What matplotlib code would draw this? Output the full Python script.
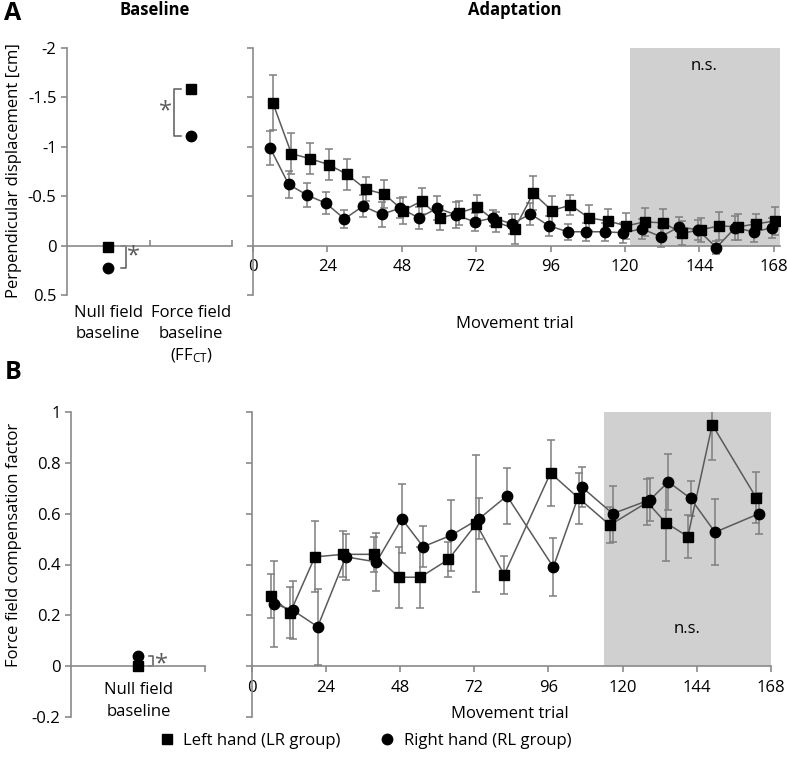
import numpy as np
import matplotlib
matplotlib.use('Agg')
import matplotlib.pyplot as plt
from matplotlib.lines import Line2D

plt.rcParams['font.family'] = ['Open Sans', 'DejaVu Sans']
plt.rcParams['axes.unicode_minus'] = False
plt.rcParams['mathtext.default'] = 'regular'

# ---- panel A data: perpendicular displacement [cm] ----
base_a_left = [0.01, -1.58]     # null field, force field (LR group)
base_a_right = [0.23, -1.11]    # (RL group)

trials_a = [6, 12, 18, 24, 30, 36, 42, 48, 54, 60, 66, 72, 78, 84,
            90, 96, 102, 108, 114, 120, 126, 132, 138, 144, 150, 156, 162, 168]
disp_left = [-1.445, -0.93, -0.88, -0.82, -0.72, -0.57, -0.52, -0.355, -0.45, -0.28,
             -0.33, -0.39, -0.24, -0.17, -0.53, -0.355, -0.41, -0.28, -0.25, -0.20,
             -0.24, -0.23, -0.125, -0.16, -0.20, -0.19, -0.22, -0.25]
err_left_a = [0.28, 0.21, 0.16, 0.16, 0.16, 0.12, 0.14, 0.14, 0.13, 0.12,
              0.12, 0.12, 0.10, 0.15, 0.17, 0.15, 0.10, 0.13, 0.12, 0.13,
              0.14, 0.14, 0.12, 0.12, 0.14, 0.13, 0.10, 0.14]
disp_right = [-0.99, -0.62, -0.51, -0.43, -0.27, -0.40, -0.315, -0.38, -0.28, -0.38,
              -0.31, -0.24, -0.28, -0.22, -0.32, -0.20, -0.14, -0.14, -0.14, -0.13,
              -0.17, -0.09, -0.19, -0.16, 0.02, -0.18, -0.14, -0.18]
err_right_a = [0.17, 0.14, 0.12, 0.11, 0.09, 0.11, 0.13, 0.10, 0.11, 0.12,
               0.13, 0.09, 0.08, 0.10, 0.11, 0.10, 0.08, 0.09, 0.09, 0.10,
               0.10, 0.10, 0.10, 0.10, 0.07, 0.12, 0.10, 0.10]

# ---- panel B data: force field compensation factor ----
base_b_left = [0.0]
base_b_right = [0.04]

trials_b = [6.4, 12.5, 20.5, 29.6, 39.5, 47.7, 54.6, 63.7, 72.7, 81.7,
            96.7, 105.9, 115.9, 128.0, 133.9, 141.1, 149.0, 163.2]
comp_left = [0.276, 0.21, 0.43, 0.44, 0.44, 0.35, 0.35, 0.42, 0.56, 0.36,
             0.76, 0.66, 0.555, 0.645, 0.565, 0.51, 0.95, 0.663]
err_left_b = [0.087, 0.10, 0.14, 0.09, 0.07, 0.12, 0.12, 0.07, 0.27, 0.075,
              0.13, 0.10, 0.07, 0.09, 0.15, 0.085, 0.14, 0.10]
comp_right = [0.245, 0.22, 0.155, 0.43, 0.41, 0.58, 0.47, 0.515, 0.58, 0.67,
              0.39, 0.705, 0.60, 0.655, 0.725, 0.66, 0.527, 0.60]
err_right_b = [0.17, 0.115, 0.15, 0.09, 0.115, 0.135, 0.08, 0.14, 0.08, 0.11,
               0.115, 0.08, 0.11, 0.085, 0.11, 0.07, 0.13, 0.08]

W, H = 787, 778
SPINE = '#8a8a8a'
ERR = '#7f7f7f'
LINE = '#5a5a5a'
SHADE = '#d0d0d0'
FS = 12

fig = plt.figure(figsize=(W / 100, H / 100), dpi=100)


def px_axes(x0, y0, x1, y1):
    return fig.add_axes([x0 / W, 1 - y1 / H, (x1 - x0) / W, (y1 - y0) / H])


def ftext(x, y, s, **kw):
    kw.setdefault('fontsize', FS)
    kw.setdefault('ha', 'center')
    kw.setdefault('va', 'center')
    fig.text(x / W, 1 - y / H, s, **kw)


def style(ax):
    for s in ['top', 'right']:
        ax.spines[s].set_visible(False)
    for s in ['left', 'bottom']:
        ax.spines[s].set_color(SPINE)
        ax.spines[s].set_linewidth(1.2)
    ax.spines['bottom'].set_position(('data', 0))
    ax.tick_params(colors=SPINE, width=1.2, length=4, labelsize=FS, labelcolor='black')
    ax.patch.set_alpha(0)


def series(ax, x, y, e, marker, ms, off):
    xs = np.array(x) + off
    ax.errorbar(xs, y, yerr=e, fmt='none', ecolor=ERR, elinewidth=1.1,
                capsize=3, capthick=1.1, zorder=3)
    ax.plot(xs, y, color=LINE, lw=1.1, zorder=4)
    ax.plot(xs, y, ls='none', marker=marker, ms=ms, color='black', zorder=5)


# ---------------- A: baseline ----------------
axA0 = px_axes(67, 48, 232, 295)
style(axA0)
axA0.set_xlim(0, 2)
axA0.set_ylim(0.5, -2)
axA0.set_yticks([-2, -1.5, -1, -0.5, 0, 0.5])
axA0.set_yticklabels(['-2', '-1.5', '-1', '-0.5', '0', '0.5'])
axA0.set_xticks([1, 2])
axA0.tick_params(axis='x', direction='in', labelbottom=False)
axA0.plot([0.5, 1.5], base_a_left, ls='none', marker='s', ms=7, color='black', zorder=5)
axA0.plot([0.5, 1.5], base_a_right, ls='none', marker='o', ms=7.5, color='black', zorder=5)
# significance brackets
axA0.plot([0.65, 0.715, 0.715, 0.65], [0.0, 0.0, base_a_right[0], base_a_right[0]],
          color=LINE, lw=1.1, clip_on=False)
axA0.text(0.8, 0.11, '*', fontsize=17, color=LINE, ha='center', va='center')
axA0.plot([1.38, 1.3, 1.3, 1.38], [base_a_left[1], base_a_left[1], base_a_right[1], base_a_right[1]],
          color=LINE, lw=1.1, clip_on=False)
axA0.text(1.19, -1.36, '*', fontsize=17, color=LINE, ha='center', va='center')

# ---------------- A: adaptation ----------------
axA1 = px_axes(253, 48, 780, 295)
style(axA1)
axA1.set_xlim(0, 170)
axA1.set_ylim(0.5, -2)
axA1.set_yticks([-2, -1.5, -1, -0.5, 0, 0.5])
axA1.tick_params(axis='y', labelleft=False)
axA1.set_xticks(np.arange(0, 169, 24))
axA1.tick_params(axis='x', pad=6)
axA1.fill_between([121.5, 170], -2, 0, color=SHADE, lw=0, zorder=0)
series(axA1, trials_a, disp_left, err_left_a, 's', 7, 0.4)
series(axA1, trials_a, disp_right, err_right_a, 'o', 7.5, -0.5)
axA1.text(145.5, -1.82, 'n.s.', fontsize=FS, ha='center', va='center')

# ---------------- B: baseline ----------------
axB0 = px_axes(71, 412, 205, 717)
style(axB0)
axB0.set_xlim(0, 1)
axB0.set_ylim(-0.2, 1)
axB0.set_yticks([-0.2, 0, 0.2, 0.4, 0.6, 0.8, 1])
axB0.set_yticklabels(['-0.2', '0', '0.2', '0.4', '0.6', '0.8', '1'])
axB0.set_xticks([1])
axB0.tick_params(axis='x', direction='out', labelbottom=False)
axB0.plot([0.5], base_b_left, ls='none', marker='s', ms=7, color='black', zorder=5, clip_on=False)
axB0.plot([0.5], base_b_right, ls='none', marker='o', ms=7.5, color='black', zorder=5, clip_on=False)
axB0.plot([0.58, 0.615, 0.615, 0.58], [0.0, 0.0, base_b_right[0], base_b_right[0]],
          color=LINE, lw=1.1, clip_on=False)
axB0.text(0.675, 0.005, '*', fontsize=17, color=LINE, ha='center', va='center')

# ---------------- B: adaptation ----------------
axB1 = px_axes(251.5, 412, 771, 717)
style(axB1)
axB1.set_xlim(0, 168)
axB1.set_ylim(-0.2, 1)
axB1.set_yticks([-0.2, 0, 0.2, 0.4, 0.6, 0.8, 1])
axB1.tick_params(axis='y', labelleft=False)
axB1.set_xticks(np.arange(0, 169, 24))
axB1.tick_params(axis='x', pad=6)
axB1.fill_between([114, 168], 0, 1, color=SHADE, lw=0, zorder=0)
series(axB1, trials_b, comp_left, err_left_b, 's', 7, 0.0)
series(axB1, trials_b, comp_right, err_right_b, 'o', 7.5, 0.9)
axB1.text(141, 0.145, 'n.s.', fontsize=FS, ha='center', va='center')

# ---------------- labels ----------------
ftext(13, 13, 'A', fontsize=18, fontweight='bold')
ftext(13, 372, 'B', fontsize=18, fontweight='bold')
ftext(155, 10, 'Baseline', fontweight='bold')
ftext(515, 10, 'Adaptation', fontweight='bold')
ftext(14, 171, 'Perpendicular displacement [cm]', rotation=90)
ftext(14, 545, 'Force field compensation factor', rotation=90)

ftext(108, 313, 'Null field')
ftext(108, 334, 'baseline')
ftext(191, 313, 'Force field')
ftext(191, 334, 'baseline')
ftext(191, 356, '(FF$_{CT}$)')
ftext(515, 324, 'Movement trial')

ftext(139, 690, 'Null field')
ftext(139, 712, 'baseline')
ftext(510, 714, 'Movement trial')

handles = [Line2D([], [], ls='none', marker='s', ms=7, color='black'),
           Line2D([], [], ls='none', marker='o', ms=7.5, color='black')]
fig.legend(handles, ['Left hand (LR group)', 'Right hand (RL group)'],
           loc='center', bbox_to_anchor=(364 / W, 1 - 741 / H), ncol=2,
           frameon=False, fontsize=FS, handletextpad=0.4, columnspacing=2.2,
           handlelength=1.2)

fig.savefig('out.png', dpi=100)
